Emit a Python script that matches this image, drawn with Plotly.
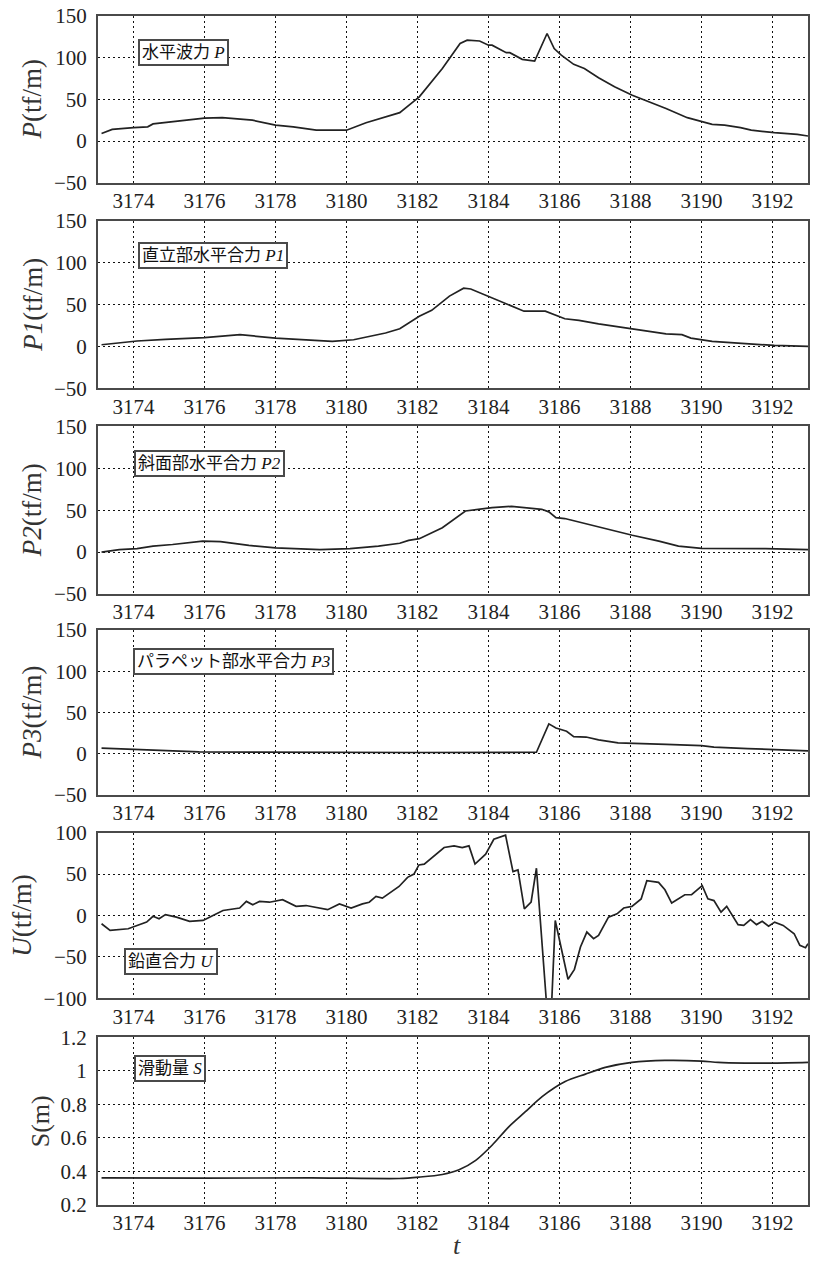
import plotly.graph_objects as go

# ---------------- data ----------------
t_ticks = [3174, 3176, 3178, 3180, 3182, 3184, 3186, 3188, 3190, 3192]
t_ticklabels = [str(v) for v in t_ticks]

force_ticks = [-50, 0, 50, 100, 150]
force_ticklabels = ["\u221250", "0", "50", "100", "150"]
u_ticks = [-100, -50, 0, 50, 100]
u_ticklabels = ["\u2212100", "\u221250", "0", "50", "100"]
s_ticks = [0.2, 0.4, 0.6, 0.8, 1.0, 1.2]
s_ticklabels = ["0.2", "0.4", "0.6", "0.8", "1", "1.2"]

p_t = [3173.1, 3173.4, 3174.0, 3174.4, 3174.55, 3175.5, 3176.0, 3176.5, 3177.35, 3178.0,
       3178.5, 3179.15, 3180.0, 3180.55, 3181.5, 3181.85, 3182.05, 3182.7, 3183.2, 3183.4,
       3183.75, 3184.0, 3184.1, 3184.5, 3184.6, 3184.95, 3185.3, 3185.65, 3185.85, 3186.05,
       3186.4, 3186.7, 3187.1, 3187.55, 3188.05, 3189.0, 3189.6, 3190.3, 3190.65, 3191.1,
       3191.4, 3192.05, 3192.7, 3193.0]
p_val = [9, 14, 16, 17, 20.5, 25, 27.5, 28, 25, 19,
         17, 13, 13, 22, 34, 46, 53, 87, 117, 121,
         120, 115, 115, 106, 106, 98, 96, 129, 111, 103,
         92, 87, 76, 65, 55, 39, 28, 20, 19, 16,
         13, 10, 8, 6]

p1_t = [3173.1, 3174.1, 3174.9, 3176.0, 3177.0, 3178.0, 3179.6, 3180.2, 3181.1, 3181.5,
        3182.05, 3182.4, 3182.9, 3183.3, 3183.5, 3184.0, 3184.5, 3185.0, 3185.6, 3186.15,
        3186.55, 3187.1, 3188.05, 3189.0, 3189.45, 3189.7, 3190.3, 3190.85, 3191.4, 3192.05,
        3193.0]
p1_val = [2, 6.5, 8.5, 10.5, 14, 10, 6, 8, 16, 21,
          36, 43, 60, 69.5, 68.5, 59.5, 50.5, 42, 42, 33,
          31, 27, 21, 15, 14, 10, 6, 4.5, 3, 1.2,
          0]

p2_t = [3173.1, 3173.6, 3174.1, 3174.55, 3175.1, 3175.95, 3176.45, 3177.25, 3178.0, 3179.25,
        3180.1, 3180.9, 3181.5, 3181.75, 3182.05, 3182.7, 3183.35, 3184.1, 3184.65, 3185.3,
        3185.5, 3185.7, 3185.9, 3186.15, 3186.9, 3188.05, 3188.8, 3189.35, 3190.0, 3190.85,
        3191.8, 3193.0]
p2_val = [0, 3, 4, 7, 9, 13, 12.5, 8, 5, 3,
          4, 7, 10.5, 14, 16, 29, 49, 53, 54.5, 52,
          51, 48, 41, 40, 32, 20, 13, 7, 4.5, 4.5,
          4, 3]

p3_t = [3173.1, 3174.0, 3174.55, 3175.85, 3182.0, 3185.35, 3185.7, 3185.9, 3186.2, 3186.4,
        3186.75, 3187.1, 3187.65, 3188.15, 3189.0, 3190.0, 3190.35, 3191.3, 3192.05, 3193.0]
p3_val = [6.5, 5.3, 4, 2, 1.2, 1.5, 36, 31, 27, 20.5,
          20, 16.5, 13, 12, 11, 9.5, 7.7, 6, 4.5, 3.3]

u_t = [3173.1, 3173.34, 3173.85, 3174.09, 3174.37, 3174.55, 3174.72, 3174.9, 3175.21, 3175.58,
       3175.96, 3176.24, 3176.52, 3176.99, 3177.18, 3177.36, 3177.55, 3177.83, 3178.2, 3178.58,
       3178.86, 3179.47, 3179.8, 3180.13, 3180.45, 3180.64, 3180.83, 3181.01, 3181.48, 3181.72,
       3181.9, 3182.04, 3182.19, 3182.75, 3183.03, 3183.26, 3183.45, 3183.62, 3183.92, 3184.15,
       3184.48, 3184.69, 3184.83, 3185.01, 3185.2, 3185.35, 3185.65, 3185.77, 3185.88, 3186.24,
       3186.42, 3186.59, 3186.77, 3186.96, 3187.1, 3187.38, 3187.62, 3187.81, 3188.04, 3188.3,
       3188.46, 3188.79, 3188.97, 3189.16, 3189.53, 3189.72, 3190.02, 3190.18, 3190.35, 3190.55,
       3190.71, 3191.03, 3191.19, 3191.38, 3191.55, 3191.71, 3191.89, 3192.06, 3192.3, 3192.61,
       3192.77, 3192.93, 3193.0]
u_val = [-10, -18, -16, -12, -8, -1, -4, 1, -2, -7,
         -6, 0, 6, 9, 17, 13, 17, 16, 19, 11,
         12, 7, 14, 9, 14, 16, 23, 21, 35, 46,
         50, 61, 62, 82, 84, 82, 84, 62, 74, 92,
         97, 53, 55, 8, 16, 57, -115, -115, -6, -77,
         -65, -38, -20, -28, -24, -2, 2, 9, 11, 20,
         42, 40, 31, 15, 25, 25, 36, 20, 18, 4,
         11, -11, -12, -5, -11, -7, -13, -8, -12, -22,
         -36, -39, -34]

s_t = [3173.1, 3176.0, 3179.0, 3181.48, 3182.04, 3182.7, 3183.17, 3183.64, 3184.1, 3184.57,
       3185.04, 3185.51, 3186.16, 3186.73, 3187.29, 3188.04, 3188.97, 3190.0, 3190.47, 3191.22,
       3192.06, 3193.0]
s_val = [0.362, 0.360, 0.362, 0.358, 0.366, 0.382, 0.41, 0.466, 0.556, 0.666,
         0.756, 0.846, 0.936, 0.98, 1.02, 1.05, 1.062, 1.058, 1.05, 1.046,
         1.046, 1.05]

labels = ["水平波力 <i>P</i>", "直立部水平合力 <i>P1</i>", "斜面部水平合力 <i>P2</i>",
          "パラペット部水平合力 <i>P3</i>", "鉛直合力 <i>U</i>", "滑動量 <i>S</i>"]
ytitles = ["<i>P</i>(tf/m)", "<i>P1</i>(tf/m)", "<i>P2</i>(tf/m)",
           "<i>P3</i>(tf/m)", "<i>U</i>(tf/m)", "S(m)"]

# ---------------- figure ----------------
series = [(p_t, p_val), (p1_t, p1_val), (p2_t, p2_val), (p3_t, p3_val), (u_t, u_val), (s_t, s_val)]
yranges = [[-50, 150]] * 4 + [[-100, 100], [0.2, 1.2]]
yticks = [(force_ticks, force_ticklabels)] * 4 + [(u_ticks, u_ticklabels), (s_ticks, s_ticklabels)]
domains = [(0.8598, 1.0), (0.6868, 0.8279), (0.5139, 0.6549),
           (0.3451, 0.4836), (0.1738, 0.3132), (0.0, 0.1411)]
box_pos = [(0.056, 0.862), (0.056, 0.875), (0.051, 0.857),
           (0.049, 0.891), (0.037, 0.301), (0.051, 0.893)]
ytitle_x = [32, 32, 32, 32, 22, 40]

SERIF = "Liberation Serif"
LINE = "#4a4a4a"
fig = go.Figure()
layout = dict(
    width=814, height=1261,
    margin=dict(l=98, r=4, t=14, b=56),
    paper_bgcolor="white", plot_bgcolor="white",
    showlegend=False,
    font=dict(family=SERIF, size=21, color="#222"),
)
annotations = []
for i, ((tx, vy), yr, (tv, tt), dom, (bx, by), ytx) in enumerate(
        zip(series, yranges, yticks, domains, box_pos, ytitle_x)):
    n = "" if i == 0 else str(i + 1)
    fig.add_trace(go.Scatter(
        x=tx, y=vy, mode="lines", xaxis="x" + n, yaxis="y" + n,
        line=dict(color="#222", width=1.7, shape="spline" if i == 5 else "linear",
                  smoothing=0.8),
        hoverinfo="skip"))
    common = dict(showgrid=True, gridcolor="#111", gridwidth=1, griddash="2px,3px",
                  zeroline=False, showline=True, mirror=True, linecolor=LINE, linewidth=2,
                  ticks="", tickfont=dict(family=SERIF, size=21, color="#222"))
    layout["xaxis" + n] = dict(common, domain=[0, 1], anchor="y" + n, range=[3173, 3193],
                               tickvals=t_ticks, ticktext=t_ticklabels, ticklabelstandoff=-2)
    layout["yaxis" + n] = dict(common, domain=list(dom), anchor="x" + n, range=yr,
                               tickvals=tv, ticktext=tt, ticklabelstandoff=5)
    annotations.append(dict(
        text=labels[i], xref="x%s domain" % n, yref="y%s domain" % n, x=bx, y=by,
        xanchor="left", yanchor="top", showarrow=False,
        font=dict(family="Liberation Serif, Noto Sans CJK JP", size=17, color="#111"),
        bgcolor="white", bordercolor=LINE, borderwidth=2, borderpad=2))
    annotations.append(dict(
        text=ytitles[i], xref="paper", yref="paper",
        x=(ytx - 98) / 712, y=(dom[0] + dom[1]) / 2,
        xanchor="center", yanchor="middle", textangle=-90, showarrow=False,
        font=dict(family=SERIF, size=27 if i < 5 else 26, color="#333")))

annotations.append(dict(
    text="<i>t</i>", xref="paper", yref="paper", x=(458 - 98) / 712, y=(1205 - 1246) / 1191,
    xanchor="center", yanchor="middle", showarrow=False,
    font=dict(family=SERIF, size=26, color="#333")))
layout["annotations"] = annotations
fig.update_layout(layout)
fig.write_html("out.html", config={"displayModeBar": False},
               post_script="document.body.style.margin='0';document.body.style.overflow='hidden';")
